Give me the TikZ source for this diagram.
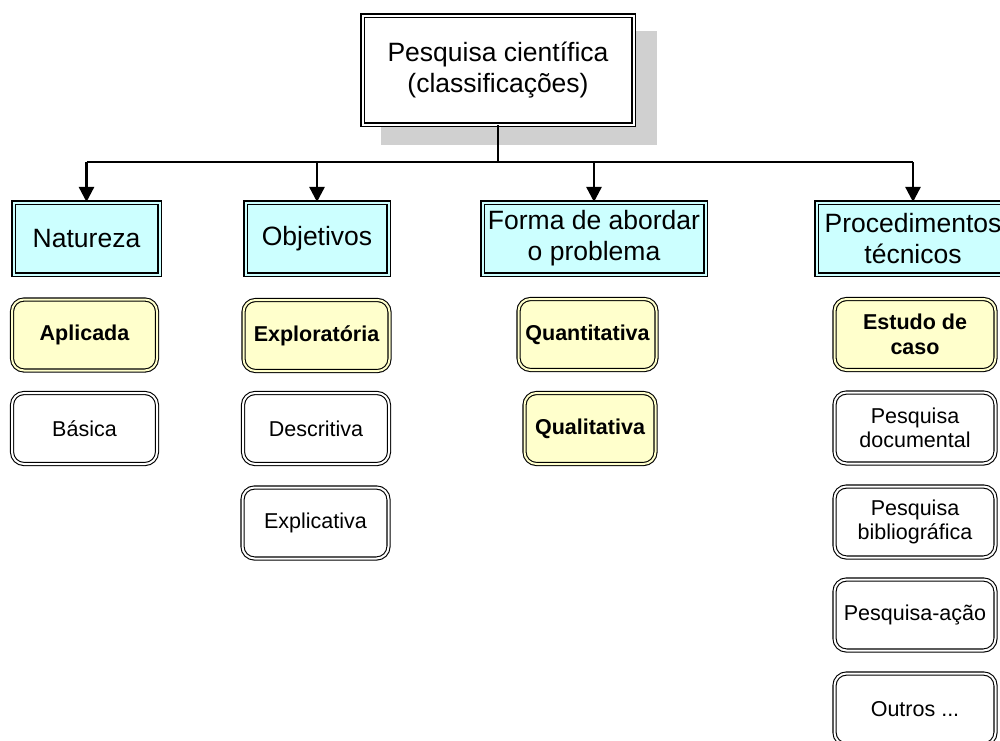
\documentclass[tikz,border=0pt]{standalone}
\usepackage{fontspec}
\setmainfont{Liberation Sans}
\usetikzlibrary{arrows.meta}
\definecolor{boxcyan}{HTML}{CCFFFF}
\definecolor{boxyellow}{HTML}{FFFFCC}
\definecolor{shadowgray}{HTML}{D0D0D0}
\tikzset{
  dbl/.style={draw=black, line width=1.1pt, double distance=2pt, inner sep=0pt, align=center},
  topbox/.style={dbl, double=white, fill=white, minimum width=271, minimum height=109,
    font=\fontsize{26.5}{31}\selectfont},
  catbox/.style={dbl, double=boxcyan, fill=boxcyan, minimum height=72,
    font=\fontsize{26.5}{31}\selectfont},
  subbox/.style={dbl, rounded corners=12pt, double=white, fill=white, minimum height=71,
    font=\fontsize{21.5}{24.5}\selectfont},
  keybox/.style={subbox, double=boxyellow, fill=boxyellow, font=\fontsize{21.5}{24.5}\selectfont\bfseries},
  link/.style={line width=2.5pt},
  arr/.style={link, -{Triangle[width=15pt,length=15pt]}}
}
\begin{document}
\begin{tikzpicture}[x=1pt, y=-1pt]
  \useasboundingbox (0,0) rectangle (1000,740);
  \clip (0,0) rectangle (1000,740);

  % top
  \fill[shadowgray] (381,31) rectangle (657,145);
  \node[topbox] (pesq) at (498,70) {Pesquisa científica\\(classificações)};

  % categories
  \node[catbox, minimum width=146] (nat) at (86.5,238.5) {Natureza};
  \node[catbox, minimum width=143] (obj) at (317,238.5) {Objetivos};
  \node[catbox, minimum width=223] (forma) at (594,238.5) {Forma de abordar\\o problema};
  \node[catbox, minimum width=193] (proc) at (913,238.5) {Procedimentos\\técnicos};

  \coordinate (bus) at (498,162);
  \draw[link] (pesq.south) -- (bus);
  \draw[link] (nat.north |- bus) -- (proc.north |- bus);
  \draw[arr] (nat.north |- bus) -- (nat.north);
  \draw[arr] (obj.north |- bus) -- (obj.north);
  \draw[arr] (forma.north |- bus) -- (forma.north);
  \draw[arr] (proc.north |- bus) -- (proc.north);

  % Natureza
  \node[keybox, minimum width=145] (apl) at (84.5,335) {Aplicada};
  \node[subbox, minimum width=145] (bas) at (84.5,428.5) {Básica};

  % Objetivos
  \node[keybox, minimum width=146] (expl) at (316.5,335.5) {Exploratória};
  \node[subbox, minimum width=146] (desc) at (316,428.5) {Descritiva};
  \node[subbox, minimum width=146] (expc) at (315.5,523) {Explicativa};

  % Forma de abordar
  \node[keybox, minimum width=138] (quant) at (587.5,334.5) {Quantitativa};
  \node[keybox, minimum width=131] (qual) at (590,428.5) {Qualitativa};

  % Procedimentos
  \node[keybox, minimum width=161] (caso) at (915,334.5) {Estudo de\\caso};
  \node[subbox, minimum width=161] (doc) at (915,428) {Pesquisa\\documental};
  \node[subbox, minimum width=161] (bib) at (915,522) {Pesquisa\\bibliográfica};
  \node[subbox, minimum width=161] (acao) at (915,615) {Pesquisa-ação};
  \node[subbox, minimum width=161] (outros) at (915,709) {Outros ...};
\end{tikzpicture}
\end{document}
